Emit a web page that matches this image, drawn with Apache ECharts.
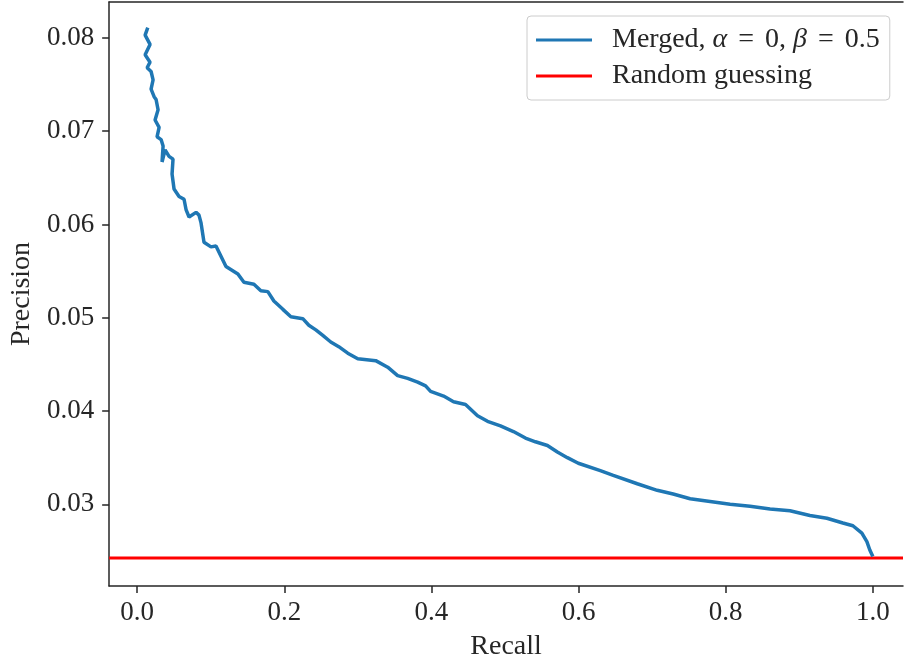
<!DOCTYPE html>
<html>
<head>
<meta charset="utf-8">
<script src="https://cdn.jsdelivr.net/npm/echarts@6/dist/echarts.min.js"></script>
<style>
  html, body { margin: 0; padding: 0; background: #fff; }
  #chart { width: 904px; height: 666px; }
</style>
</head>
<body>
<div id="chart"></div>
<script>
  // precision-recall curve
  var recall = [
    0.0145, 0.0109, 0.0176, 0.0109, 0.0176, 0.0136, 0.0190, 0.0217, 0.0190, 0.0231,
    0.0258, 0.0285, 0.0244, 0.0299, 0.0271, 0.0326, 0.0353, 0.0339, 0.0380, 0.0434,
    0.0488, 0.0475, 0.0502, 0.0570, 0.0638, 0.0665, 0.0706, 0.0801, 0.0841, 0.0868,
    0.0909, 0.1004, 0.1072, 0.1140, 0.1208, 0.1370, 0.1452, 0.1588, 0.1682, 0.1777,
    0.1859, 0.1981, 0.2090, 0.2252, 0.2334, 0.2429, 0.2524, 0.2632, 0.2741, 0.2863,
    0.2999, 0.3243, 0.3406, 0.3541, 0.3677, 0.3813, 0.3921, 0.3989, 0.4166, 0.4301,
    0.4464, 0.4627, 0.4763, 0.4939, 0.5115, 0.5278, 0.5414, 0.5577, 0.5712, 0.5848,
    0.5997, 0.6296, 0.6472, 0.6798, 0.7069, 0.7286, 0.7517, 0.7788, 0.8060, 0.8331,
    0.8603, 0.8874, 0.9145, 0.9376, 0.9593, 0.9729, 0.9851, 0.9919, 0.9959, 1.0000
  ];
  var precision = [
    0.0811, 0.0803, 0.0793, 0.0782, 0.0774, 0.0768, 0.0764, 0.0755, 0.0745, 0.0737,
    0.0734, 0.0723, 0.0712, 0.0704, 0.0694, 0.0691, 0.0684, 0.0667, 0.0680, 0.0673,
    0.0670, 0.0654, 0.0638, 0.0630, 0.0627, 0.0616, 0.0608, 0.0613, 0.0610, 0.0602,
    0.0581, 0.0576, 0.0577, 0.0566, 0.0555, 0.0547, 0.0538, 0.0536, 0.0529, 0.0528,
    0.0518, 0.0509, 0.0501, 0.0499, 0.0492, 0.0487, 0.0481, 0.0474, 0.0469, 0.0462,
    0.0456, 0.0454, 0.0447, 0.0438, 0.0435, 0.0431, 0.0427, 0.0421, 0.0416, 0.0410,
    0.0407, 0.0395, 0.0389, 0.0384, 0.0378, 0.0371, 0.0367, 0.0363, 0.0356, 0.0350,
    0.0344, 0.0336, 0.0331, 0.0322, 0.0315, 0.0311, 0.0306, 0.0303, 0.0300, 0.0298,
    0.0295, 0.0293, 0.0288, 0.0285, 0.0280, 0.0277, 0.0269, 0.0260, 0.0251, 0.0244
  ];
  var randomLevel = 0.02423;

  // axis ranges (matplotlib-style margins around the data)
  var xMin = -0.038, xMax = 1.041;
  var yMin = 0.02124, yMax = 0.08385;

  var xTicks = [0.0, 0.2, 0.4, 0.6, 0.8, 1.0];
  var yTicks = [0.03, 0.04, 0.05, 0.06, 0.07, 0.08];

  var seriesNames = ['Merged, α = 0, β = 0.5', 'Random guessing'];

  var font = 'Liberation Serif';
  var ink = '#262626';

  var curve = recall.map(function (r, i) { return [r, precision[i]]; });
  // horizontal line across the whole axes, like axhline
  var randomLine = [[xMin, randomLevel], [xMax, randomLevel]];

  var myChart = echarts.init(document.getElementById('chart'));
  var option = {
    animation: false,
    backgroundColor: '#fff',
    textStyle: { fontFamily: font, color: ink },
    grid: { left: 108, right: 1, top: 2, bottom: 79 },
    legend: {
      left: 527,
      top: 16,
      orient: 'vertical',
      backgroundColor: '#fff',
      borderColor: '#cccccc',
      borderWidth: 1,
      borderRadius: 4,
      padding: [9, 10, 9, 9],
      icon: 'rect',
      itemWidth: 56,
      itemHeight: 3,
      itemGap: 6,
      data: seriesNames,
      formatter: function (name) {
        if (name === seriesNames[0]) {
          return 'Merged, {i|α}{eq|=}0, {i|β}{eq|=}0.5';
        }
        return name;
      },
      textStyle: {
        fontFamily: font,
        fontSize: 28,
        lineHeight: 30,
        color: ink,
        padding: [0, 0, 0, 15],
        rich: {
          i: { fontFamily: font, fontSize: 28, lineHeight: 30, fontStyle: 'italic', color: ink },
          eq: { fontFamily: font, fontSize: 28, lineHeight: 30, color: ink, padding: [0, 11, 0, 11] }
        }
      }
    },
    xAxis: [{
      type: 'value',
      min: xMin,
      max: xMax,
      name: 'Recall',
      nameLocation: 'middle',
      nameGap: 47,
      nameTextStyle: { fontFamily: font, fontSize: 28, color: ink },
      splitLine: { show: false },
      axisLine: { show: true, onZero: false, lineStyle: { color: ink, width: 1.5 } },
      axisTick: { show: true, length: 7, customValues: xTicks, lineStyle: { color: ink, width: 1.5 } },
      axisLabel: {
        margin: 13, fontFamily: font, fontSize: 27, color: ink,
        customValues: xTicks,
        formatter: function (v) { return v.toFixed(1); }
      }
    }, {
      type: 'value',
      position: 'top',
      min: xMin,
      max: xMax,
      splitLine: { show: false },
      axisLine: { show: true, onZero: false, lineStyle: { color: ink, width: 1.5 } },
      axisTick: { show: false },
      axisLabel: { show: false }
    }],
    yAxis: {
      type: 'value',
      min: yMin,
      max: yMax,
      name: 'Precision',
      nameLocation: 'middle',
      nameGap: 72,
      nameTextStyle: { fontFamily: font, fontSize: 28, color: ink },
      splitLine: { show: false },
      axisLine: { show: true, onZero: false, lineStyle: { color: ink, width: 1.5 } },
      axisTick: { show: true, length: 7, customValues: yTicks, lineStyle: { color: ink, width: 1.5 } },
      axisLabel: {
        margin: 15, fontFamily: font, fontSize: 27, color: ink,
        padding: [4, 0, 0, 0],
        customValues: yTicks,
        formatter: function (v) { return v.toFixed(2); }
      }
    },
    series: [
      {
        name: seriesNames[0],
        type: 'line',
        data: curve,
        symbol: 'none',
        color: '#1f77b4',
        lineStyle: { color: '#1f77b4', width: 3.5 },
        z: 3
      },
      {
        name: seriesNames[1],
        type: 'line',
        data: randomLine,
        symbol: 'none',
        color: '#ff0000',
        lineStyle: { color: '#ff0000', width: 3 },
        z: 2
      }
    ]
  };
  myChart.setOption(option);
</script>
</body>
</html>
